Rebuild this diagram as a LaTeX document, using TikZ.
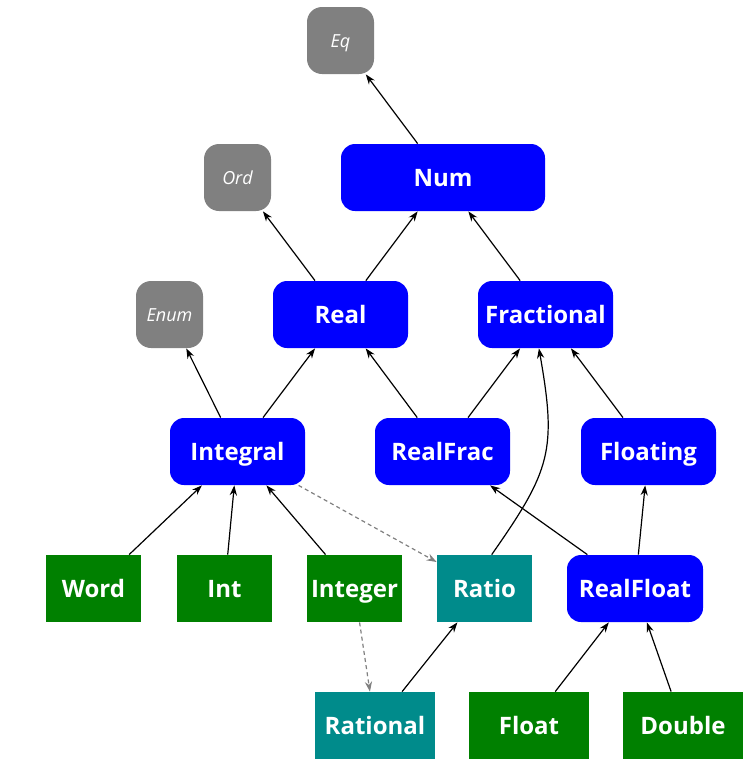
\documentclass[tikz,border=0pt]{standalone}
\usepackage{fontspec}
\setmainfont{Open Sans}
\usepackage{tikz}
\usetikzlibrary{arrows.meta}

\definecolor{classblue}{RGB}{0,0,255}
\definecolor{classgray}{RGB}{128,128,128}
\definecolor{typegreen}{RGB}{0,128,0}
\definecolor{typeteal}{RGB}{0,139,139}

\begin{document}
\begin{tikzpicture}[
		x=0.5pt, y=-0.5pt,
		every node/.style={font=\fontsize{12}{14}\selectfont\bfseries, text=white, align=center, inner sep=0pt, minimum height=33.5pt, text height=8.6pt, text depth=0pt},
		arrow/.style={-{Stealth[length=5pt, width=3.6pt]}, line width=0.6pt},
		weak/.style={-{Stealth[length=5pt, width=3.6pt]}, line width=0.6pt, dash pattern=on 2pt off 1.6pt, classgray},
		external/.style={fill=classgray, rounded corners=7.5pt, minimum width=33.5pt, font=\fontsize{9}{11}\selectfont\itshape, text height=6.5pt},
		class/.style={fill=classblue, rounded corners=7pt, minimum width=67.5pt},
		type/.style={fill=typegreen, minimum width=47.5pt},
		wide type/.style={fill=typegreen, minimum width=60pt}
		]
		\useasboundingbox (0,0) rectangle (750,767);
		
		% Nodes
		\node[external] (eq) at (340.5, 40.5) {Eq};
		\node[external] (ord) at (237.5, 177.5) {Ord};
		\node[external] (enum) at (169.5, 314.5) {Enum};
		
		\node[class, minimum width=102pt] (num) at (443, 177.5) {Num};
		\node[class] (real) at (340.5, 314.5) {Real};
		\node[class] (fractional) at (545.5, 314.5) {Fractional};
		\node[class] (integral) at (237.5, 451.5) {Integral};
		\node[class] (realfrac) at (442.5, 451.5) {RealFrac};
		\node[class] (floating) at (648.5, 451.5) {Floating};
		\node[class, minimum width=68pt] (realfloat) at (635, 588.5) {RealFloat};
		
		\node[type] (word) at (93.5, 588.5) {Word};
		\node[type] (int) at (224.5, 588.5) {Int};
		\node[type] (integer) at (354.5, 588.5) {Integer};
		\node[type, fill=typeteal] (ratio) at (484.5, 588.5) {Ratio};
		\node[wide type, fill=typeteal] (rational) at (375, 725.5) {Rational};
		\node[wide type] (float) at (529, 725.5) {Float};
		\node[wide type] (double) at (683, 725.5) {Double};
		
		% Class hierarchy
		\draw[arrow] (num) -- (eq);
		\draw[arrow] (real) -- (ord);
		\draw[arrow] (real) -- (num);
		\draw[arrow] (fractional) -- (num);
		\draw[arrow] (integral) -- (enum);
		\draw[arrow] (integral) -- (real);
		\draw[arrow] (realfrac) -- (real);
		\draw[arrow] (realfrac) -- (fractional);
		\draw[arrow] (floating) -- (fractional);
		\draw[arrow] (realfloat) -- (realfrac);
		\draw[arrow] (realfloat) -- (floating);
		
		% Instances
		\draw[arrow] (word) -- (integral);
		\draw[arrow] (int) -- (integral);
		\draw[arrow] (integer) -- (integral);
		\draw[arrow] (ratio.78) to[out=55, in=-80, looseness=1.25] (fractional.259);
		\draw[arrow] (rational) -- (ratio);
		\draw[arrow] (float) -- (realfloat);
		\draw[arrow] (double) -- (realfloat);
		
		% Type parameters
		\draw[weak] (integral) -- (ratio);
		\draw[weak] (integer) -- (rational);
		
	\end{tikzpicture}
\end{document}
